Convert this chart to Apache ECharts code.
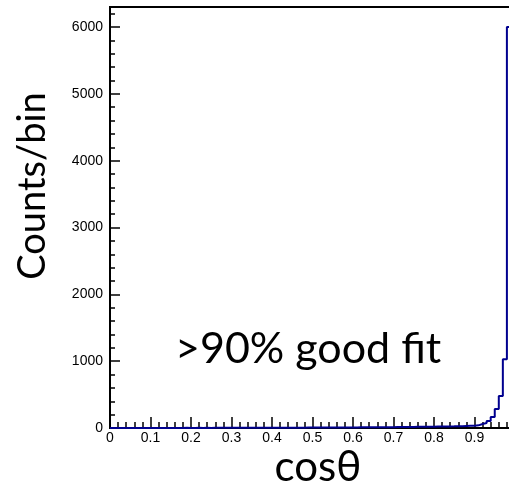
<!DOCTYPE html>
<html>
<head>
<meta charset="utf-8">
<script src="https://cdn.jsdelivr.net/npm/echarts@6/dist/echarts.min.js"></script>
<style>
  html, body { margin: 0; padding: 0; background: #fff; overflow: hidden; }
  #chart { width: 530px; height: 492px; }
</style>
</head>
<body>
<div id="chart"></div>
<script>
// histogram: 100 bins of width 0.01 on [0, 1]
const xMin = 0
const binWidth = 0.01
const counts = [
  1, 1, 0, 1, 1, 1, 0, 1, 1, 1,
  1, 1, 1, 1, 1, 1, 1, 1, 2, 1,
  1, 2, 1, 2, 1, 2, 2, 2, 2, 2,
  2, 2, 3, 2, 3, 3, 3, 3, 3, 4,
  4, 4, 4, 4, 5, 5, 5, 5, 6, 6,
  6, 6, 7, 7, 7, 8, 8, 8, 9, 9,
  9, 10, 10, 10, 11, 11, 12, 12, 13, 13,
  14, 14, 15, 15, 16, 17, 17, 18, 19, 20,
  21, 22, 23, 24, 25, 27, 28, 30, 32, 34,
  40, 60, 75, 105, 165, 285, 480, 1030, 6000, 3500
]
const xTicks = ['0', '0.1', '0.2', '0.3', '0.4', '0.5', '0.6', '0.7', '0.8', '0.9', '1']
const yTicks = ['0', '1000', '2000', '3000', '4000', '5000', '6000']

// step points at bin low edges, plus the closing edge
const stepData = counts.map((c, i) => [xMin + i * binWidth, c])
stepData.push([xMin + counts.length * binWidth, counts[counts.length - 1]])

const chart = echarts.init(document.getElementById('chart'))
const options = {
  animation: false,
  grid: {
    left: 110,
    right: 15,
    top: 7,
    bottom: 64,
    show: true,
    borderColor: '#000',
    borderWidth: 2
  },
  xAxis: {
    type: 'value',
    min: 0,
    max: 1,
    interval: 0.1,
    splitLine: { show: false },
    axisLine: { lineStyle: { color: '#000', width: 2 } },
    axisTick: { inside: true, length: 11, lineStyle: { color: '#000', width: 1.5 } },
    minorTick: { show: true, splitNumber: 5, length: 6, lineStyle: { color: '#000', width: 1.5 } },
    axisLabel: {
      color: '#000',
      fontFamily: 'Liberation Sans',
      fontSize: 14,
      margin: 3,
      formatter: v => xTicks[Math.round(v * 10)] || ''
    }
  },
  yAxis: {
    type: 'value',
    min: 0,
    max: 6300,
    interval: 1000,
    splitLine: { show: false },
    axisLine: { lineStyle: { color: '#000', width: 2 } },
    axisTick: { inside: true, length: 10, lineStyle: { color: '#000', width: 1.5 } },
    minorTick: { show: true, splitNumber: 5, length: 5, lineStyle: { color: '#000', width: 1.5 } },
    axisLabel: {
      color: '#000',
      fontFamily: 'Liberation Sans',
      fontSize: 14,
      margin: 7,
      showMaxLabel: false,
      formatter: v => yTicks[Math.round(v / 1000)] || ''
    }
  },
  graphic: [
    {
      type: 'text',
      x: 33,
      y: 186,
      rotation: Math.PI / 2,
      style: {
        text: 'Counts/bin',
        font: '38px Lato',
        fill: '#000',
        align: 'center',
        verticalAlign: 'middle'
      }
    },
    {
      type: 'text',
      x: 318,
      y: 488,
      style: {
        text: 'cosθ',
        font: '42px Lato',
        fill: '#000',
        align: 'center',
        verticalAlign: 'bottom'
      }
    },
    {
      type: 'text',
      x: 175,
      y: 371,
      style: {
        text: '>90% good fit',
        font: '43px Lato',
        fill: '#000',
        align: 'left',
        verticalAlign: 'bottom'
      }
    }
  ],
  series: [
    {
      type: 'line',
      step: 'end',
      data: stepData,
      symbol: 'none',
      lineStyle: { color: '#00008f', width: 2 }
    }
  ]
}
chart.setOption(options)
</script>
</body>
</html>
